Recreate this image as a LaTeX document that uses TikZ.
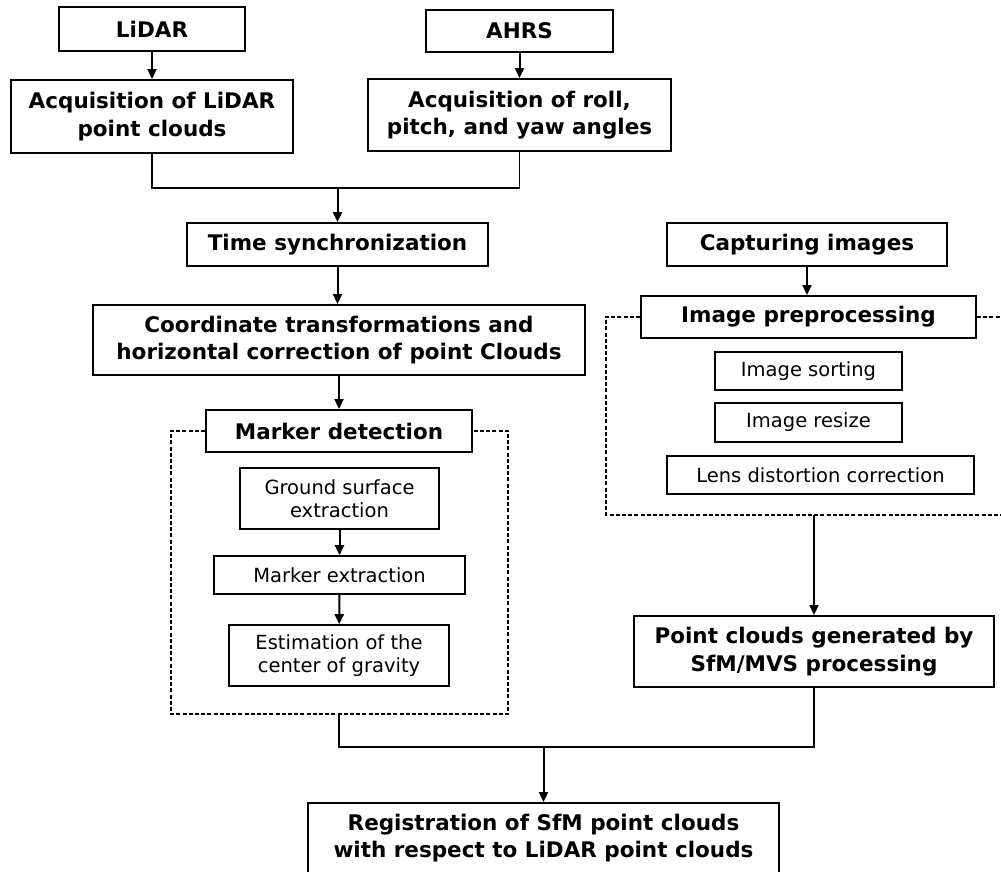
\documentclass[tikz,border=0pt]{standalone}
\usepackage{fontspec}
\setmainfont{DejaVu Sans}
\usetikzlibrary{arrows.meta}
\tikzset{
  box/.style={draw, line width=1.9pt, inner sep=0pt, align=center, fill=white},
  bigbox/.style={box, font=\fontsize{21.5}{27.5}\selectfont\bfseries},
  smallbox/.style={box, line width=1.6pt, font=\fontsize{19.5}{22.5}\selectfont},
  conn/.style={line width=2pt},
  arr/.style={conn, -{Triangle[width=9pt,length=10pt]}},
  grp/.style={line width=1.3pt, dash pattern=on 4pt off 2.2pt}
}
\begin{document}
\begin{tikzpicture}[x=1pt, y=-1pt]
\useasboundingbox (0,0) rectangle (1001,871);
% left column
\node[bigbox, minimum width=186pt, minimum height=44pt] (lidar) at (152,29) {LiDAR};
\node[bigbox, minimum width=282pt, minimum height=73pt] (acqL) at (152,116.5) {Acquisition of LiDAR\\point clouds};
\node[bigbox, minimum width=187pt, minimum height=42pt] (ahrs) at (519.5,31) {AHRS};
\node[bigbox, minimum width=303pt, minimum height=72pt] (acqR) at (519.5,115) {Acquisition of roll,\\pitch, and yaw angles};
\node[bigbox, minimum width=301pt, minimum height=43pt] (sync) at (337.5,244.5) {Time synchronization};
\node[bigbox, minimum width=492pt, minimum height=70pt] (coord) at (339,340) {Coordinate transformations and\\horizontal correction of point Clouds};
\node[bigbox, minimum width=266pt, minimum height=42pt] (marker) at (339,431) {Marker detection};
\node[smallbox, minimum width=199pt, minimum height=61pt] (ground) at (339.5,498.5) {Ground surface\\extraction};
\node[smallbox, minimum width=251pt, minimum height=38pt] (mext) at (339.5,575) {Marker extraction};
\node[smallbox, minimum width=220pt, minimum height=61pt] (est) at (339,655.5) {Estimation of the\\center of gravity};
% right column
\node[bigbox, minimum width=280pt, minimum height=43pt] (capture) at (807,244.5) {Capturing images};
\node[bigbox, minimum width=335pt, minimum height=42pt] (preproc) at (808.5,317) {Image preprocessing};
\node[smallbox, minimum width=187pt, minimum height=38pt] (sort) at (808.5,371) {Image sorting};
\node[smallbox, minimum width=187pt, minimum height=39pt] (resize) at (808.5,422.5) {Image resize};
\node[smallbox, minimum width=307pt, minimum height=38pt] (lens) at (820.5,475) {Lens distortion correction};
\node[bigbox, minimum width=360pt, minimum height=71pt] (sfm) at (814,651.5) {Point clouds generated by\\SfM/MVS processing};
\node[bigbox, minimum width=471pt, minimum height=70pt] (reg) at (543.5,838) {Registration of SfM point clouds\\with respect to LiDAR point clouds};
% group frames
\coordinate (gl1) at (171,431);
\coordinate (gl2) at (171,714);
\coordinate (gl3) at (508,714);
\coordinate (gl4) at (508,431);
\draw[grp] (marker.west) -- (gl1) -- (gl2) -- (gl3) -- (gl4) -- (marker.east);
\coordinate (gr1) at (606,317);
\coordinate (gr2) at (606,515);
\coordinate (gr3) at (1001,515);
\coordinate (gr4) at (1001,317);
\draw[grp] (preproc.west) -- (gr1) -- (gr2) -- (gr3);
\draw[grp] (preproc.east) -- (gr4);
% connectors
\draw[arr] (lidar) -- (acqL);
\draw[arr] (ahrs) -- (acqR);
\coordinate (j1) at (337.5,188);
\draw[conn, line width=1.5pt] (acqL.south) |- (j1) -| (acqR.south);
\draw[arr] (j1) -- (sync.north);
\draw[arr] (sync.south) -- (sync.south |- coord.north);
\draw[arr] (coord.south) -- (marker.north);
\draw[arr] (ground) -- (mext);
\draw[arr] (mext) -- (est);
\draw[arr] (capture.south) -- (capture.south |- preproc.north);
\coordinate (gb) at (814,515);
\draw[arr] (gb) -- (sfm.north);
\coordinate (lb) at (339,714);
\coordinate (j2) at (543.5,747);
\draw[conn] (lb) |- (j2) -| (sfm.south);
\draw[arr] (j2) -- (reg.north);
\end{tikzpicture}
\end{document}
